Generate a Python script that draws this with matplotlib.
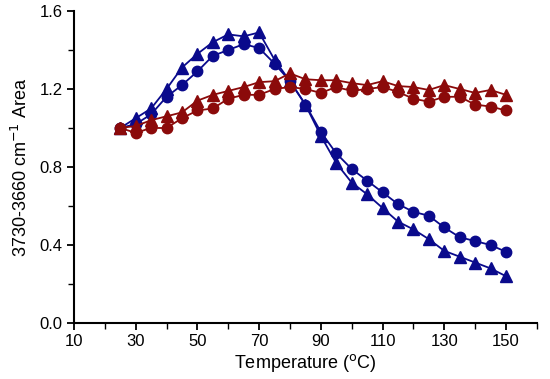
import matplotlib
matplotlib.use('Agg')
import matplotlib.pyplot as plt
from matplotlib.ticker import MultipleLocator

plt.rcParams['font.family'] = ['Liberation Sans', 'DejaVu Sans']

temp = [25, 30, 35, 40, 45, 50, 55, 60, 65, 70, 75, 80, 85, 90, 95,
        100, 105, 110, 115, 120, 125, 130, 135, 140, 145, 150]

blue_circle = [1.00, 1.02, 1.07, 1.16, 1.22, 1.29, 1.37, 1.40, 1.43, 1.41, 1.33,
               1.24, 1.12, 0.98, 0.87, 0.79, 0.73, 0.67, 0.61, 0.57, 0.55,
               0.49, 0.44, 0.42, 0.40, 0.365]
blue_tri = [1.00, 1.05, 1.10, 1.20, 1.31, 1.38, 1.44, 1.48, 1.47, 1.49, 1.35,
            1.24, 1.12, 0.96, 0.82, 0.72, 0.66, 0.59, 0.52, 0.48, 0.43,
            0.37, 0.34, 0.31, 0.28, 0.24]
red_circle = [1.00, 0.975, 1.00, 1.00, 1.05, 1.09, 1.10, 1.15, 1.17, 1.17, 1.20,
              1.21, 1.20, 1.18, 1.21, 1.19, 1.20, 1.21, 1.185, 1.15, 1.135,
              1.16, 1.16, 1.12, 1.11, 1.09]
red_tri = [1.00, 1.01, 1.04, 1.06, 1.08, 1.14, 1.17, 1.19, 1.21, 1.235, 1.24,
           1.28, 1.25, 1.245, 1.245, 1.23, 1.22, 1.24, 1.215, 1.21, 1.195,
           1.22, 1.20, 1.18, 1.195, 1.17]

blue = '#0a0a8c'
red = '#8b0a0a'

fig = plt.figure(figsize=(5.5, 3.79), dpi=100)
ax = fig.add_axes([0.1345, 0.1478, 0.8415, 0.8232])

ax.plot(temp, blue_tri, '-^', color=blue, ms=8.5, lw=1.3)
ax.plot(temp, blue_circle, '-o', color=blue, ms=7.5, lw=1.3)
ax.plot(temp, red_tri, '-^', color=red, ms=8.5, lw=1.3)
ax.plot(temp, red_circle, '-o', color=red, ms=7.5, lw=1.3)

ax.set_xlim(10, 160)
ax.set_ylim(0, 1.6)
ax.set_xticks([10, 30, 50, 70, 90, 110, 130, 150])
ax.xaxis.set_minor_locator(MultipleLocator(10))
ax.set_yticks([0.0, 0.4, 0.8, 1.2, 1.6])
ax.yaxis.set_minor_locator(MultipleLocator(0.2))
ax.set_yticklabels(['0.0', '0.4', '0.8', '1.2', '1.6'])

for s in ['top', 'right']:
    ax.spines[s].set_visible(False)
for s in ['left', 'bottom']:
    ax.spines[s].set_linewidth(1.5)
ax.tick_params(which='major', direction='out', length=5, width=1.3, labelsize=12, pad=3)
ax.tick_params(which='minor', direction='out', length=4, width=1.0)

ax.set_xlabel('Temperature ($^{\\mathrm{o}}$C)', fontsize=13, labelpad=2)
ax.set_ylabel('3730-3660 cm$^{\\mathrm{-1}}$ Area', fontsize=13, labelpad=6)

fig.savefig('out.png', dpi=100)
